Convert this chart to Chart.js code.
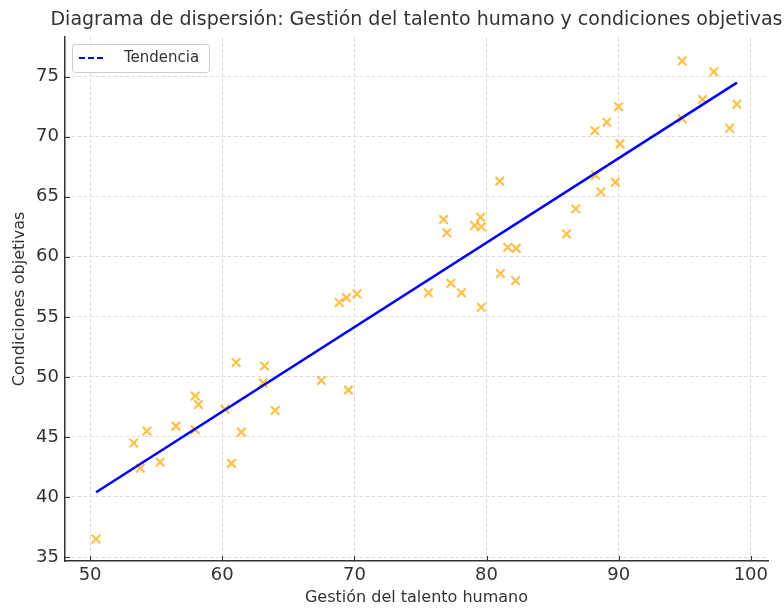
<!DOCTYPE html>
<html lang="es">
<head>
<meta charset="utf-8">
<title>Diagrama de dispersión</title>
<script src="https://cdn.jsdelivr.net/npm/chart.js@4.4.1/dist/chart.umd.min.js"></script>
<style>
  html, body { margin: 0; padding: 0; background: #fff; }
  #wrap { width: 784px; height: 610px; }
</style>
</head>
<body>
<div id="wrap"><canvas id="chart-scatter" width="784" height="610"></canvas></div>
<script>
(function () {
  'use strict';

  // valores
  const X_VALUES = [50.45, 53.3, 53.8, 54.3, 55.3, 56.5, 57.95, 58.2, 57.95, 60.2,
    61.05, 61.45, 60.7, 63.2, 63.1, 64.0, 67.5, 69.55, 68.85, 69.4,
    70.2, 75.6, 77.3, 78.1, 79.6, 76.75, 77.0, 79.1, 79.55, 79.6,
    81.0, 81.05, 81.6, 82.25, 82.2, 86.05, 86.75, 88.2, 88.25, 88.65,
    89.1, 89.75, 90.0, 90.1, 94.8, 94.8, 96.35, 97.2, 98.4, 98.95];
  const Y_VALUES = [36.5, 44.5, 42.4, 45.5, 42.9, 45.9, 48.4, 47.7, 45.6, 47.3,
    51.2, 45.4, 42.8, 50.9, 49.5, 47.2, 49.7, 48.9, 56.2, 56.6,
    56.9, 57.0, 57.8, 57.0, 55.8, 63.1, 62.0, 62.6, 63.3, 62.5,
    66.3, 58.6, 60.8, 60.7, 58.0, 61.9, 64.0, 70.5, 66.8, 65.4,
    71.2, 66.2, 72.5, 69.4, 76.3, 71.5, 73.1, 75.4, 70.7, 72.7];
  const TREND_X = [50.45, 98.95];
  const TREND_Y = [40.4, 74.5];
  const X_TICKS = [50, 60, 70, 80, 90, 100];
  const Y_TICKS = [35, 40, 45, 50, 55, 60, 65, 70, 75];

  const TITLE = 'Diagrama de dispersión: Gestión del talento humano y condiciones objetivas';
  const FONT = '"DejaVu Sans", sans-serif';
  const TEXT_COLOR = '#333333';

  function toPoints(xs, ys) {
    return xs.map(function (x, i) { return { x: x, y: ys[i] }; });
  }

  var titlePlugin = {
    id: 'plotTitle',
    afterDraw: function (chart) {
      var ctx = chart.ctx;
      var area = chart.chartArea;
      ctx.save();
      ctx.font = '19px ' + FONT;
      ctx.fillStyle = TEXT_COLOR;
      ctx.textAlign = 'center';
      ctx.textBaseline = 'middle';
      ctx.fillText(TITLE, (area.left + area.right) / 2, 20);
      ctx.restore();
    }
  };

  // ticks hacia dentro, como en matplotlib
  var innerTicksPlugin = {
    id: 'innerTicks',
    afterDatasetsDraw: function (chart) {
      var ctx = chart.ctx;
      var area = chart.chartArea;
      var xs = chart.scales.x, ys = chart.scales.y;
      ctx.save();
      ctx.strokeStyle = TEXT_COLOR;
      ctx.lineWidth = 1;
      ctx.beginPath();
      X_TICKS.forEach(function (v) {
        var px = Math.round(xs.getPixelForValue(v)) + 0.5;
        ctx.moveTo(px, area.bottom);
        ctx.lineTo(px, area.bottom - 5);
      });
      Y_TICKS.forEach(function (v) {
        var py = Math.round(ys.getPixelForValue(v)) + 0.5;
        ctx.moveTo(area.left, py);
        ctx.lineTo(area.left + 5, py);
      });
      ctx.stroke();
      ctx.restore();
    }
  };

  var legendBoxPlugin = {
    id: 'legendBox',
    afterDraw: function (chart) {
      var ctx = chart.ctx;
      var ds = chart.data.datasets[0];
      var x = 72.5, y = 44.5, w = 137, h = 28, r = 3;
      ctx.save();
      ctx.beginPath();
      ctx.roundRect(x, y, w, h, r);
      ctx.fillStyle = 'rgba(255,255,255,0.8)';
      ctx.fill();
      ctx.strokeStyle = '#cccccc';
      ctx.lineWidth = 1;
      ctx.stroke();
      ctx.beginPath();
      ctx.setLineDash([6, 3]);
      ctx.strokeStyle = ds.borderColor;
      ctx.lineWidth = 2;
      ctx.moveTo(79, 58);
      ctx.lineTo(103, 58);
      ctx.stroke();
      ctx.setLineDash([]);
      ctx.font = '15px ' + FONT;
      ctx.fillStyle = TEXT_COLOR;
      ctx.textAlign = 'left';
      ctx.textBaseline = 'middle';
      ctx.fillText(ds.label, 124, 58);
      ctx.restore();
    }
  };

  function initChart() {
    if (typeof Chart === 'undefined') return;
    var el = document.getElementById('chart-scatter');
    new Chart(el, {
      type: 'scatter',
      data: {
        datasets: [{
          label: 'Tendencia',
          data: toPoints(TREND_X, TREND_Y),
          showLine: true,
          borderColor: '#0000ff',
          backgroundColor: '#0000ff',
          borderWidth: 2.5,
          pointRadius: 0,
          order: 0
        }, {
          label: 'Datos',
          data: toPoints(X_VALUES, Y_VALUES),
          pointStyle: 'crossRot',
          pointRadius: 6,
          pointBorderWidth: 2.2,
          borderColor: 'rgba(255,165,0,0.7)',
          backgroundColor: 'rgba(255,165,0,0.7)',
          order: 1
        }]
      },
      options: {
        responsive: false,
        animation: false,
        layout: { padding: { top: 37, right: 16, left: 0, bottom: 0 } },
        plugins: {
          legend: { display: false },
          tooltip: { enabled: false },
          title: { display: false }
        },
        scales: {
          x: {
            type: 'linear',
            min: 48.1,
            max: 101.3,
            afterBuildTicks: function (scale) { scale.ticks = X_TICKS.map(function (v) { return { value: v }; }); },
            afterFit: function (scale) { scale.height = 49; },
            ticks: { font: { family: FONT, size: 18 }, color: TEXT_COLOR, padding: 4, maxRotation: 0 },
            grid: { color: '#dddddd', lineWidth: 1, drawTicks: false },
            border: { display: true, color: TEXT_COLOR, width: 1.5, dash: [4, 2] },
            title: {
              display: true,
              text: 'Gestión del talento humano',
              font: { family: FONT, size: 16 },
              color: TEXT_COLOR,
              padding: { top: 0, bottom: 3 }
            }
          },
          y: {
            type: 'linear',
            min: 34.67,
            max: 78.3,
            afterBuildTicks: function (scale) { scale.ticks = Y_TICKS.map(function (v) { return { value: v }; }); },
            afterFit: function (scale) { scale.width = 65; },
            ticks: { font: { family: FONT, size: 18 }, color: TEXT_COLOR, padding: 6 },
            grid: { color: '#dddddd', lineWidth: 1, drawTicks: false },
            border: { display: true, color: TEXT_COLOR, width: 1.5, dash: [4, 2] },
            title: {
              display: true,
              text: 'Condiciones objetivas',
              font: { family: FONT, size: 16 },
              color: TEXT_COLOR,
              padding: { top: 10, bottom: 0 }
            }
          }
        }
      },
      plugins: [innerTicksPlugin, titlePlugin, legendBoxPlugin]
    });
  }

  if (document.readyState === 'loading') {
    document.addEventListener('DOMContentLoaded', initChart);
  } else {
    initChart();
  }
})();
</script>
</body>
</html>
